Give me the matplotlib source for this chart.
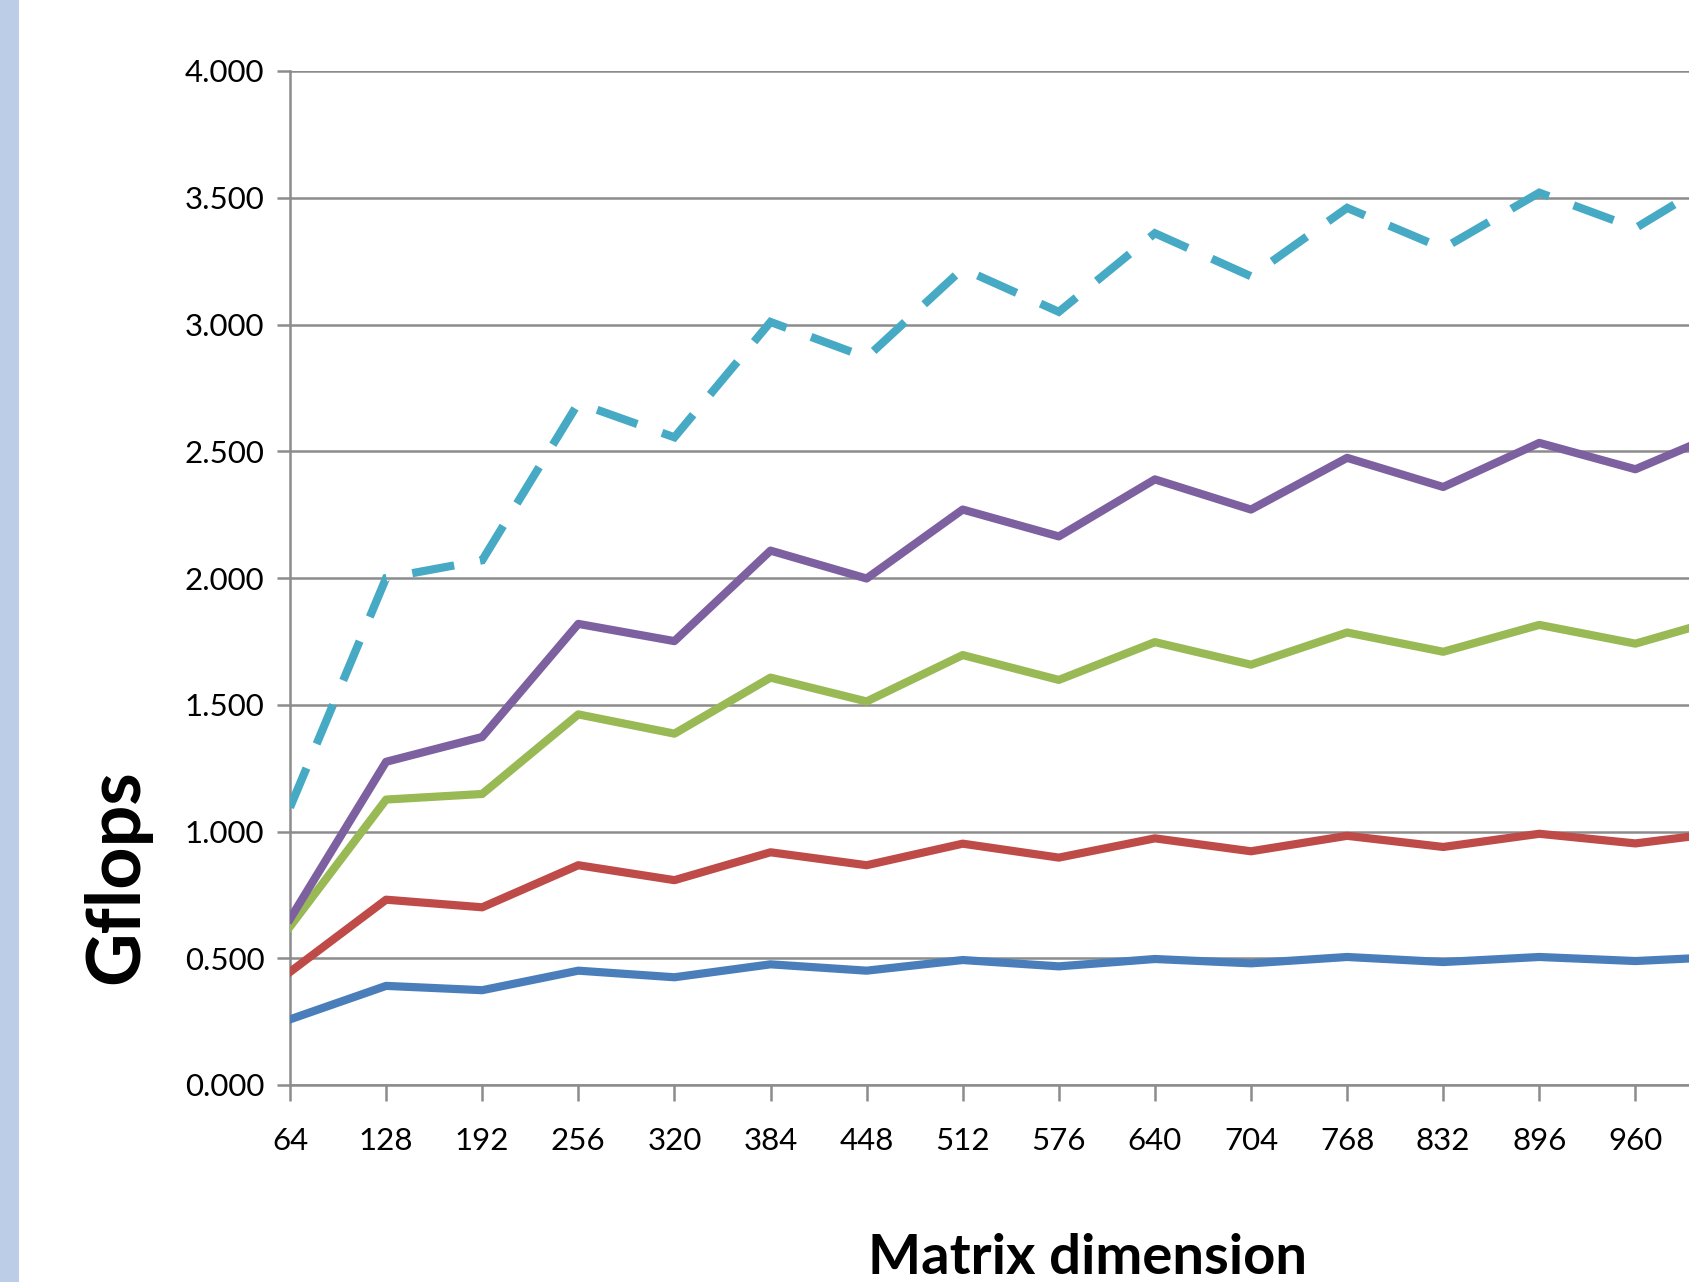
import matplotlib
matplotlib.use("Agg")
import matplotlib.pyplot as plt
from matplotlib.patches import Rectangle
from matplotlib.ticker import FormatStrFormatter

# Matrix sizes (category axis)
sizes = [64, 128, 192, 256, 320, 384, 448, 512, 576, 640, 704, 768, 832, 896, 960, 1024]

# Gflops per series
series_blue = [0.259, 0.391, 0.374, 0.451, 0.425, 0.476, 0.451, 0.493, 0.468, 0.497,
               0.480, 0.505, 0.485, 0.505, 0.489, 0.507]
series_red = [0.446, 0.731, 0.701, 0.867, 0.808, 0.918, 0.867, 0.952, 0.897, 0.973,
              0.922, 0.983, 0.939, 0.991, 0.953, 1.000]
series_green = [0.625, 1.126, 1.148, 1.462, 1.386, 1.607, 1.513, 1.696, 1.598, 1.747,
                1.658, 1.785, 1.709, 1.815, 1.741, 1.850]
series_purple = [0.655, 1.275, 1.373, 1.819, 1.751, 2.108, 1.998, 2.270, 2.164, 2.389,
                 2.270, 2.474, 2.359, 2.533, 2.429, 2.590]
series_cyan = [1.095, 2.000, 2.070, 2.690, 2.555, 3.010, 2.870, 3.220, 3.050, 3.360,
               3.190, 3.460, 3.300, 3.520, 3.380, 3.610]

y_ticks = [0.0, 0.5, 1.0, 1.5, 2.0, 2.5, 3.0, 3.5, 4.0]

W, H = 1689, 1282
fig = plt.figure(figsize=(W / 100, H / 100), dpi=100)
fig.patch.set_facecolor("white")

# narrow light-blue band on the left edge
fig.patches.append(Rectangle((0, 0), 19 / W, 1, transform=fig.transFigure,
                             facecolor="#BCCDE8", edgecolor="none", zorder=0))

left_px, right_px = 290, 290 + 15 * 96.1
bottom_px, top_px = 1085, 71
ax = fig.add_axes([left_px / W, 1 - bottom_px / H,
                   (right_px - left_px) / W, (bottom_px - top_px) / H])

xs = list(range(len(sizes)))
grid_c = "#8C8C8C"
lw = 5.9

ax.plot(xs, series_blue, color="#4A7EBB", lw=lw, solid_joinstyle="round", zorder=3)
ax.plot(xs, series_red, color="#BE4B48", lw=lw, solid_joinstyle="round", zorder=3)
ax.plot(xs, series_green, color="#98B954", lw=lw, solid_joinstyle="round", zorder=3)
ax.plot(xs, series_purple, color="#7D60A0", lw=lw, solid_joinstyle="round", zorder=3)
ax.plot(xs, series_cyan, color="#46AAC5", lw=lw, dashes=(5.2, 3.2),
        dash_capstyle="butt", dash_joinstyle="miter", zorder=3)

ax.set_xlim(0, len(sizes) - 1)
ax.set_ylim(0, 4.0)
ax.set_yticks(y_ticks)
ax.yaxis.set_major_formatter(FormatStrFormatter("%.3f"))
ax.set_xticks(xs)
# the last category sits past the right edge of the canvas, so its label stays blank
ax.set_xticklabels([str(s) for s in sizes[:-1]] + [""])

ax.grid(axis="y", color=grid_c, lw=1.8, zorder=1)
ax.set_axisbelow(True)
for side in ["top", "right"]:
    ax.spines[side].set_visible(False)
for side in ["left", "bottom"]:
    ax.spines[side].set_color(grid_c)
    ax.spines[side].set_linewidth(1.8)

tick_font = "Lato"
ax.tick_params(axis="y", length=9.5, width=1.8, color=grid_c, pad=9,
               labelsize=22.5, labelcolor="black")
ax.tick_params(axis="x", length=11.5, width=1.8, color=grid_c, pad=19,
               labelsize=22.5, labelcolor="black")
for lab in ax.get_xticklabels() + ax.get_yticklabels():
    lab.set_fontfamily(tick_font)

fig.text(117 / W, 1 - 877 / H, "Gflops", rotation=90, ha="center", va="center",
         fontsize=53, fontweight="bold", fontfamily="Lato")
fig.text(1087 / W, (H - 1274) / H, "Matrix dimension", ha="center", va="baseline",
         fontsize=40.5, fontweight="bold", fontfamily="Lato")

fig.savefig("out.png", dpi=100)
